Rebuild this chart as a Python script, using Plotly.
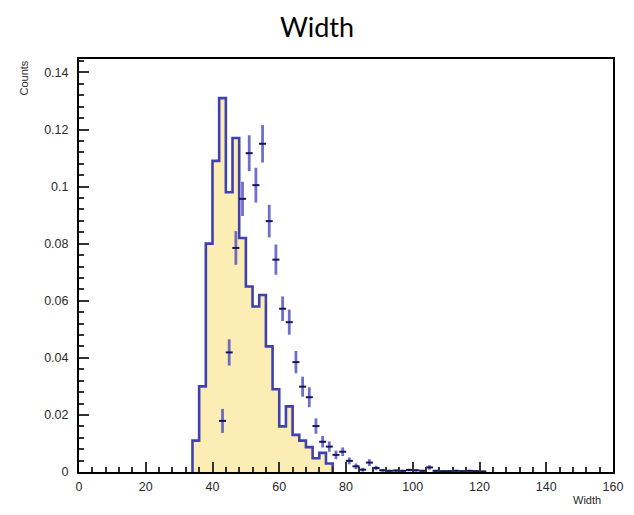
import plotly.graph_objects as go

# Histogram (filled, bin width 2)
hist_edges = [34, 36, 38, 40, 42, 44, 46, 48, 50, 52, 54, 56, 58, 60, 62, 64, 66, 68, 70, 72, 74, 76]
hist_counts = [0.011, 0.030, 0.080, 0.109, 0.131, 0.098, 0.117, 0.082, 0.065, 0.058, 0.062,
               0.044, 0.029, 0.016, 0.023, 0.013, 0.011, 0.0087, 0.0048, 0.0067, 0.003]

# Data points with errors (bin centres)
pt_x = [43, 45, 47, 49, 51, 53, 55, 57, 59, 61, 63, 65, 67, 69, 71, 73, 75, 77, 79, 81,
        83, 85, 87, 89, 91, 93, 95, 97, 99, 101, 103, 105, 107, 109, 111, 113, 115, 117, 119, 121]
pt_y = [0.0179, 0.0419, 0.0785, 0.0957, 0.1117, 0.1005, 0.1150, 0.0879, 0.0744, 0.0572,
        0.0525, 0.0385, 0.0299, 0.0262, 0.0161, 0.0106, 0.0089, 0.0060, 0.0071, 0.0039,
        0.0020, 0.0008, 0.0033, 0.0014, 0.0006, 0.0004, 0.0005, 0.0004, 0.0007, 0.0006,
        0.0004, 0.0016, 0.0004, 0.0003, 0.0003, 0.0004, 0.0003, 0.0004, 0.0003, 0.0002]
pt_err = [0.0042, 0.0046, 0.0059, 0.0060, 0.0063, 0.0061, 0.0066, 0.0057, 0.0053, 0.0043,
          0.0044, 0.0039, 0.0035, 0.0035, 0.0027, 0.0020, 0.0018, 0.0015, 0.0015, 0.0012,
          0.0010, 0.0007, 0.0012, 0.0008, 0.0005, 0.0004, 0.0005, 0.0004, 0.0005, 0.0005,
          0.0004, 0.0008, 0.0004, 0.0003, 0.0003, 0.0004, 0.0003, 0.0004, 0.0003, 0.0003]

x_ticks = [0, 20, 40, 60, 80, 100, 120, 140, 160]
y_ticks = [0, 0.02, 0.04, 0.06, 0.08, 0.1, 0.12, 0.14]
y_tick_labels = ["0", "0.02", "0.04", "0.06", "0.08", "0.1", "0.12", "0.14"]

step_x = [hist_edges[0]] + hist_edges
step_y = [0] + hist_counts + [0]

fig = go.Figure()
fig.add_trace(go.Scatter(
    x=step_x, y=step_y, mode="lines", line_shape="hv",
    line=dict(color="#4040b0", width=2.6),
    fill="tozeroy", fillcolor="#fbedb3", hoverinfo="skip", showlegend=False))
fig.add_trace(go.Scatter(
    x=pt_x, y=pt_y, mode="markers",
    marker=dict(symbol="line-ew-open", size=5, line=dict(color="#15155e", width=2), color="#15155e"),
    error_y=dict(type="data", array=pt_err, visible=True, width=0, thickness=2.8,
                 color="rgba(75,75,190,0.8)"),
    showlegend=False))

tickfont = dict(family="Liberation Sans, Arial", size=12.5, color="#2a2a2a")
fig.update_layout(
    width=634, height=515,
    margin=dict(l=79, r=11, t=59, b=43),
    paper_bgcolor="white", plot_bgcolor="white",
    title=dict(text="Width", x=0.5, xanchor="center", y=1 - 28 / 515, yanchor="middle",
               font=dict(family="Lato, Noto Sans", size=27, color="black")),
    xaxis=dict(range=[0, 160], tickvals=x_ticks, ticks="inside", ticklen=10, tickwidth=1.8,
               tickcolor="#333", showgrid=False, zeroline=False, showline=True, linecolor="black",
               linewidth=2, mirror=True, tickfont=tickfont, ticklabelstandoff=2,
               minor=dict(dtick=4, ticks="inside", ticklen=5, tickwidth=1.8, tickcolor="#333")),
    yaxis=dict(range=[0, 0.1447], tickvals=y_ticks, ticktext=y_tick_labels, ticks="inside",
               ticklen=10, tickwidth=1.8, tickcolor="#333", showgrid=False, zeroline=False,
               showline=True, linecolor="black", linewidth=2, mirror=True, tickfont=tickfont,
               ticklabelstandoff=6,
               minor=dict(dtick=0.004, ticks="inside", ticklen=5, tickwidth=1.8, tickcolor="#333")),
    annotations=[
        dict(text="Counts", xref="paper", yref="paper", x=(22 - 79) / 544, y=1.0,
             xanchor="center", yanchor="top", textangle=-90, showarrow=False,
             font=dict(family="Liberation Sans, Arial", size=11, color="#2a2a2a")),
        dict(text="Width", xref="paper", yref="paper", x=(613 - 79) / 544, y=(472 - 500) / 413,
             xanchor="right", yanchor="middle", showarrow=False,
             font=dict(family="Liberation Sans, Arial", size=11, color="#2a2a2a")),
    ],
)

fig.write_html("out.html")
